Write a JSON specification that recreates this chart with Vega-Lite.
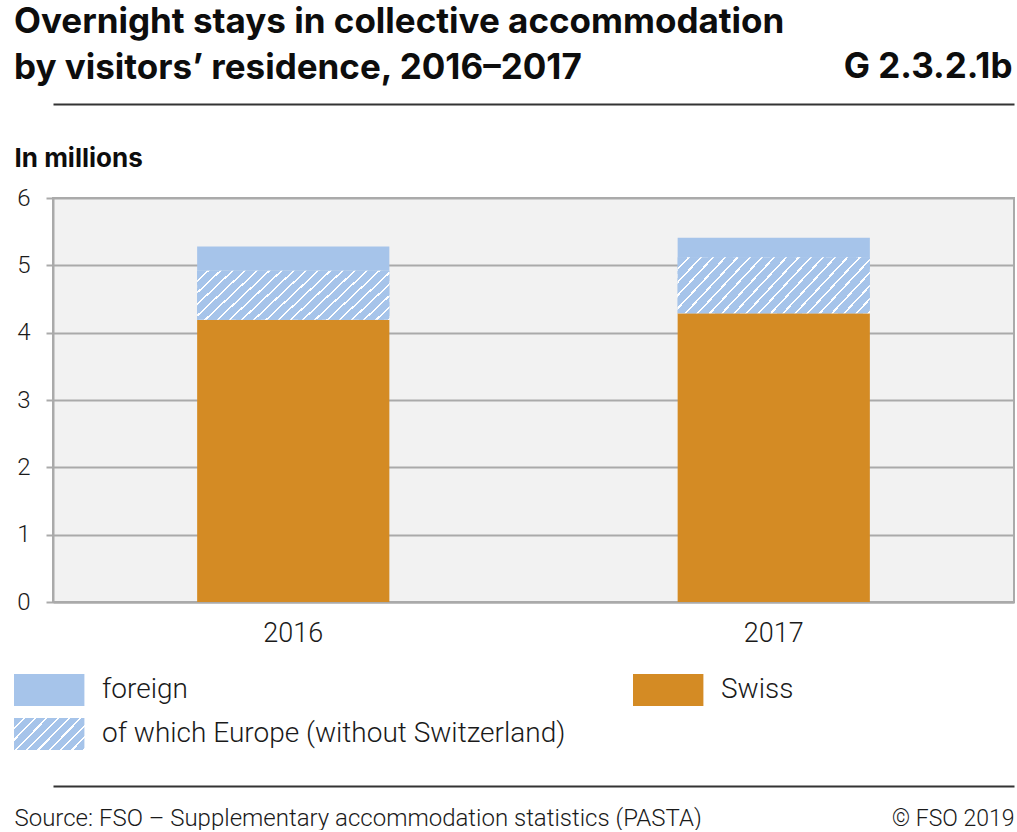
{
  "$schema": "https://vega.github.io/schema/vega-lite/v6.json",
  "width": 961,
  "height": 404,
  "padding": {"left": 14, "top": 5, "right": 2, "bottom": 0},
  "background": "#ffffff",
  "config": {
    "font": "Roboto",
    "view": {"stroke": "#aaaaaa", "strokeWidth": 2, "fill": "#f2f2f2"}
  },
  "title": {
    "text": ["Overnight stays in collective accommodation", "by visitors’ residence, 2016–2017"],
    "anchor": "start",
    "frame": "bounds",
    "font": "Inter",
    "fontSize": 35,
    "fontWeight": "bold",
    "lineHeight": 46,
    "color": "#0d0d0d",
    "offset": -37
  },
  "data": {
    "values": [
      {"year": "2016", "series": "Swiss", "value": 4.19},
      {"year": "2016", "series": "of which Europe (without Switzerland)", "value": 0.73},
      {"year": "2016", "series": "foreign", "value": 0.36},
      {"year": "2017", "series": "Swiss", "value": 4.29},
      {"year": "2017", "series": "of which Europe (without Switzerland)", "value": 0.83},
      {"year": "2017", "series": "foreign", "value": 0.29}
    ]
  },
  "transform": [
    {"stack": "value", "groupby": ["year"], "sort": [{"field": "value", "order": "descending"}], "as": ["v0", "v1"]}
  ],
  "resolve": {"axis": {"x": "independent"}},
  "layer": [
    {
      "mark": {"type": "bar"},
      "encoding": {
        "x": {
          "field": "year",
          "type": "nominal",
          "scale": {"paddingInner": 0.6, "paddingOuter": 0.3},
          "axis": {
            "orient": "bottom",
            "title": null,
            "labelAngle": 0,
            "labelFontSize": 27,
            "labelFontWeight": 300,
            "labelColor": "#1a1a1a",
            "labelPadding": 18,
            "ticks": false,
            "domainColor": "#aaaaaa",
            "domainWidth": 2
          }
        },
        "y": {
          "field": "v1",
          "type": "quantitative",
          "scale": {"domain": [0, 6], "nice": false},
          "axis": {
            "values": [0, 1, 2, 3, 4, 5, 6],
            "format": "d",
            "title": "In millions",
            "titleAngle": 0,
            "titleAlign": "left",
            "titleBaseline": "alphabetic",
            "titleX": -39,
            "titleY": -32,
            "titleFont": "Inter",
            "titleFontSize": 26,
            "titleFontWeight": "bold",
            "titleColor": "#0d0d0d",
            "labelFontSize": 24,
            "labelFontWeight": 300,
            "labelColor": "#1a1a1a",
            "labelPadding": 16,
            "tickSize": 7,
            "tickWidth": 2,
            "tickColor": "#aaaaaa",
            "domainColor": "#aaaaaa",
            "domainWidth": 2,
            "gridColor": "#aaaaaa",
            "gridWidth": 2,
            "grid": true
          }
        },
        "y2": {"field": "v0"},
        "color": {
          "field": "series",
          "type": "nominal",
          "scale": {
            "domain": ["foreign", "of which Europe (without Switzerland)", "Swiss"],
            "range": [
              "#a6c4ea",
              {"expr": "{gradient:'linear',x1:0,y1:0,x2:1.206,y2:0.536,stops:[{offset:0,color:'#a6c4ea'},{offset:0.09,color:'#a6c4ea'},{offset:0.09,color:'#ffffff'},{offset:0.111,color:'#ffffff'},{offset:0.111,color:'#a6c4ea'},{offset:0.201,color:'#a6c4ea'},{offset:0.201,color:'#ffffff'},{offset:0.222,color:'#ffffff'},{offset:0.222,color:'#a6c4ea'},{offset:0.312,color:'#a6c4ea'},{offset:0.312,color:'#ffffff'},{offset:0.333,color:'#ffffff'},{offset:0.333,color:'#a6c4ea'},{offset:0.423,color:'#a6c4ea'},{offset:0.423,color:'#ffffff'},{offset:0.444,color:'#ffffff'},{offset:0.444,color:'#a6c4ea'},{offset:0.534,color:'#a6c4ea'},{offset:0.534,color:'#ffffff'},{offset:0.556,color:'#ffffff'},{offset:0.556,color:'#a6c4ea'},{offset:0.645,color:'#a6c4ea'},{offset:0.645,color:'#ffffff'},{offset:0.667,color:'#ffffff'},{offset:0.667,color:'#a6c4ea'},{offset:0.756,color:'#a6c4ea'},{offset:0.756,color:'#ffffff'},{offset:0.778,color:'#ffffff'},{offset:0.778,color:'#a6c4ea'},{offset:0.867,color:'#a6c4ea'},{offset:0.867,color:'#ffffff'},{offset:0.889,color:'#ffffff'},{offset:0.889,color:'#a6c4ea'},{offset:0.978,color:'#a6c4ea'},{offset:0.978,color:'#ffffff'},{offset:1,color:'#ffffff'}]}"},
              "#d48b24"
            ]
          },
          "legend": {
            "title": null,
            "orient": "none",
            "legendX": -39,
            "legendY": 476,
            "direction": "vertical",
            "columns": 2,
            "columnPadding": 67,
            "rowPadding": 12,
            "padding": 0,
            "symbolType": "M-1,-1H3.4V1H-1Z",
            "symbolSize": 1024,
            "symbolStrokeWidth": 0,
            "symbolOpacity": 1,
            "labelOffset": 56,
            "labelFontSize": 28,
            "labelFontWeight": 300,
            "labelColor": "#1a1a1a",
            "labelLimit": 700
          }
        }
      }
    },
    {
      "transform": [{"filter": "datum.series === 'of which Europe (without Switzerland)'"}],
      "mark": {
        "type": "bar",
        "color": {
          "gradient": "linear",
          "x1": 0, "y1": 0, "x2": 1.184, "y2": 0.321,
          "stops": [
            {"offset": 0, "color": "#a6c4ea"}, {"offset": 0.041, "color": "#a6c4ea"}, {"offset": 0.041, "color": "#ffffff"}, {"offset": 0.05, "color": "#ffffff"},
            {"offset": 0.05, "color": "#a6c4ea"}, {"offset": 0.091, "color": "#a6c4ea"}, {"offset": 0.091, "color": "#ffffff"}, {"offset": 0.1, "color": "#ffffff"},
            {"offset": 0.1, "color": "#a6c4ea"}, {"offset": 0.141, "color": "#a6c4ea"}, {"offset": 0.141, "color": "#ffffff"}, {"offset": 0.15, "color": "#ffffff"},
            {"offset": 0.15, "color": "#a6c4ea"}, {"offset": 0.191, "color": "#a6c4ea"}, {"offset": 0.191, "color": "#ffffff"}, {"offset": 0.2, "color": "#ffffff"},
            {"offset": 0.2, "color": "#a6c4ea"}, {"offset": 0.241, "color": "#a6c4ea"}, {"offset": 0.241, "color": "#ffffff"}, {"offset": 0.25, "color": "#ffffff"},
            {"offset": 0.25, "color": "#a6c4ea"}, {"offset": 0.291, "color": "#a6c4ea"}, {"offset": 0.291, "color": "#ffffff"}, {"offset": 0.3, "color": "#ffffff"},
            {"offset": 0.3, "color": "#a6c4ea"}, {"offset": 0.341, "color": "#a6c4ea"}, {"offset": 0.341, "color": "#ffffff"}, {"offset": 0.35, "color": "#ffffff"},
            {"offset": 0.35, "color": "#a6c4ea"}, {"offset": 0.391, "color": "#a6c4ea"}, {"offset": 0.391, "color": "#ffffff"}, {"offset": 0.4, "color": "#ffffff"},
            {"offset": 0.4, "color": "#a6c4ea"}, {"offset": 0.441, "color": "#a6c4ea"}, {"offset": 0.441, "color": "#ffffff"}, {"offset": 0.45, "color": "#ffffff"},
            {"offset": 0.45, "color": "#a6c4ea"}, {"offset": 0.491, "color": "#a6c4ea"}, {"offset": 0.491, "color": "#ffffff"}, {"offset": 0.5, "color": "#ffffff"},
            {"offset": 0.5, "color": "#a6c4ea"}, {"offset": 0.541, "color": "#a6c4ea"}, {"offset": 0.541, "color": "#ffffff"}, {"offset": 0.55, "color": "#ffffff"},
            {"offset": 0.55, "color": "#a6c4ea"}, {"offset": 0.591, "color": "#a6c4ea"}, {"offset": 0.591, "color": "#ffffff"}, {"offset": 0.6, "color": "#ffffff"},
            {"offset": 0.6, "color": "#a6c4ea"}, {"offset": 0.641, "color": "#a6c4ea"}, {"offset": 0.641, "color": "#ffffff"}, {"offset": 0.65, "color": "#ffffff"},
            {"offset": 0.65, "color": "#a6c4ea"}, {"offset": 0.691, "color": "#a6c4ea"}, {"offset": 0.691, "color": "#ffffff"}, {"offset": 0.7, "color": "#ffffff"},
            {"offset": 0.7, "color": "#a6c4ea"}, {"offset": 0.741, "color": "#a6c4ea"}, {"offset": 0.741, "color": "#ffffff"}, {"offset": 0.75, "color": "#ffffff"},
            {"offset": 0.75, "color": "#a6c4ea"}, {"offset": 0.791, "color": "#a6c4ea"}, {"offset": 0.791, "color": "#ffffff"}, {"offset": 0.8, "color": "#ffffff"},
            {"offset": 0.8, "color": "#a6c4ea"}, {"offset": 0.841, "color": "#a6c4ea"}, {"offset": 0.841, "color": "#ffffff"}, {"offset": 0.85, "color": "#ffffff"},
            {"offset": 0.85, "color": "#a6c4ea"}, {"offset": 0.891, "color": "#a6c4ea"}, {"offset": 0.891, "color": "#ffffff"}, {"offset": 0.9, "color": "#ffffff"},
            {"offset": 0.9, "color": "#a6c4ea"}, {"offset": 0.941, "color": "#a6c4ea"}, {"offset": 0.941, "color": "#ffffff"}, {"offset": 0.95, "color": "#ffffff"},
            {"offset": 0.95, "color": "#a6c4ea"}, {"offset": 0.991, "color": "#a6c4ea"}, {"offset": 0.991, "color": "#ffffff"}, {"offset": 1, "color": "#ffffff"}
          ]
        }
      },
      "encoding": {
        "x": {"field": "year", "type": "nominal", "axis": null},
        "y": {"field": "v1", "type": "quantitative"},
        "y2": {"field": "v0"}
      }
    },
    {
      "mark": {"type": "point", "opacity": 0},
      "encoding": {
        "x": {
          "field": "year",
          "type": "nominal",
          "axis": {
            "orient": "top",
            "offset": 94,
            "labels": false,
            "ticks": false,
            "domainColor": "#333333",
            "domainWidth": 2,
            "title": "G 2.3.2.1b",
            "titleAnchor": "end",
            "titleAlign": "right",
            "titleBaseline": "alphabetic",
            "titleX": 959,
            "titleY": -27,
            "titleFont": "Inter",
            "titleFontSize": 35,
            "titleFontWeight": "bold",
            "titleColor": "#0d0d0d"
          }
        }
      }
    },
    {
      "mark": {"type": "point", "opacity": 0},
      "encoding": {
        "x": {
          "field": "year",
          "type": "nominal",
          "axis": {
            "orient": "bottom",
            "offset": 184,
            "labels": false,
            "ticks": false,
            "domainColor": "#333333",
            "domainWidth": 2,
            "title": "Source: FSO – Supplementary accommodation statistics (PASTA)",
            "titleAnchor": "start",
            "titleAlign": "left",
            "titleBaseline": "alphabetic",
            "titleX": -39,
            "titleY": 39,
            "titleFontSize": 24,
            "titleFontWeight": 300,
            "titleColor": "#1a1a1a"
          }
        }
      }
    },
    {
      "mark": {"type": "point", "opacity": 0},
      "encoding": {
        "x": {
          "field": "year",
          "type": "nominal",
          "axis": {
            "orient": "bottom",
            "offset": 184,
            "labels": false,
            "ticks": false,
            "domain": false,
            "title": "© FSO 2019",
            "titleAnchor": "end",
            "titleAlign": "right",
            "titleBaseline": "alphabetic",
            "titleX": 961,
            "titleY": 39,
            "titleFontSize": 23,
            "titleFontWeight": 300,
            "titleColor": "#1a1a1a"
          }
        }
      }
    }
  ]
}
